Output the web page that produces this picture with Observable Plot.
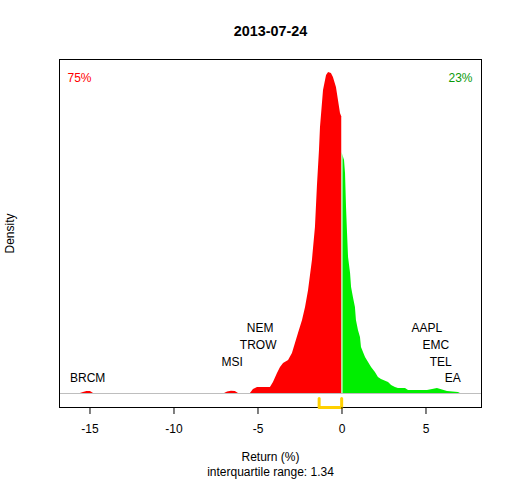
<!DOCTYPE html>
<html>
<head>
<meta charset="utf-8">
<script src="https://cdn.jsdelivr.net/npm/d3@7"></script>
<script src="https://cdn.jsdelivr.net/npm/@observablehq/plot@0.6"></script>
<style>
  html, body { margin: 0; padding: 0; background: white; }
</style>
</head>
<body>
<div id="chart"></div>
<script>
// Density of negative returns (red)
const negReturn = [-15.57, -15.39, -15.18, -14.97, -14.79, -6.99, -6.81, -6.58, -6.35, -6.16,
  -5.45, -5.27, -5.03, -4.85, -4.55, -4.26, -4.08, -3.84, -3.66, -3.48, -3.18, -2.95, -2.77,
  -2.59, -2.35, -2.17, -1.99, -1.76, -1.58, -1.46, -1.34, -1.28, -1.10, -0.92, -0.80, -0.63,
  -0.51, -0.33, -0.21, -0.09, 0];
const negDensity = [0, 0.0012, 0.0024, 0.0024, 0, 0, 0.0018, 0.0027, 0.0024, 0,
  0, 0.0047, 0.0071, 0.0071, 0.0071, 0.0071, 0.0129, 0.0235, 0.0306, 0.0353, 0.0388, 0.0471, 0.0588,
  0.0706, 0.0859, 0.1012, 0.1212, 0.1565, 0.1953, 0.2447, 0.2859, 0.3129, 0.3565, 0.3741, 0.3776, 0.3765,
  0.3718, 0.3600, 0.3447, 0.3294, 0.3247];
// Density of positive returns (green)
const posReturn = [0, 0.15, 0.21, 0.27, 0.33, 0.39, 0.51, 0.57, 0.68, 0.80, 0.86, 0.98, 1.10, 1.16,
  1.40, 1.58, 1.76, 1.99, 2.17, 2.35, 2.77, 2.95, 3.18, 3.36, 3.78, 3.96, 4.55, 5.09, 5.39, 5.68,
  6.28, 6.93, 7.05];
const posDensity = [0.2835, 0.2741, 0.2588, 0.2188, 0.1882, 0.1600, 0.1412, 0.1247, 0.1129, 0.1012,
  0.0859, 0.0741, 0.0659, 0.0541, 0.0424, 0.0365, 0.0306, 0.0247, 0.0188, 0.0165, 0.0129, 0.0094,
  0.0071, 0.0059, 0.0059, 0.0035, 0.0035, 0.0035, 0.0047, 0.0059, 0.0024, 0.0012, 0];

// Labelled extreme stocks
const tickers = ["BRCM", "MSI", "TROW", "NEM", "AAPL", "EMC", "TEL", "EA"];
const tickerReturn = [-15.14, -6.53, -4.99, -4.87, 5.05, 5.58, 5.88, 6.59];
const tickerRow = [1, 2, 3, 4, 4, 3, 2, 1];

const quartiles = [-1.36, -0.02];
const xTicks = [-15, -10, -5, 0, 5];
const title = "2013-07-24";
const fracNeg = "75%";
const fracPos = "23%";
const xLabel = "Return (%)";
const iqrLabel = "interquartile range: 1.34";
const yLabel = "Density";

const neg = negReturn.map((x, i) => ({x, y: negDensity[i]}));
const pos = posReturn.map((x, i) => ({x, y: posDensity[i]}));
const labels = tickers.map((t, i) => ({t, x: tickerReturn[i], y: 0.0176 + (tickerRow[i] - 1) * 0.0196}));

const yMin = -0.01647, yMax = 0.39294;
const bracket = [
  {x: quartiles[0], y: -0.0059},
  {x: quartiles[0], y: yMin},
  {x: quartiles[1], y: yMin},
  {x: quartiles[1], y: -0.0059}
];

const font = "'Liberation Sans', Arial, sans-serif";
const mid = {lineAnchor: "middle", fill: "black", fontSize: 12};

const chart = Plot.plot({
  width: 512,
  height: 480,
  marginLeft: 59,
  marginRight: 31,
  marginTop: 59,
  marginBottom: 73,
  style: {fontFamily: font, fontSize: "12px", background: "white", color: "black", overflow: "visible"},
  x: {domain: [-16.815, 8.304]},
  y: {domain: [yMin, yMax], axis: null},
  marks: [
    Plot.areaY(neg, {x: "x", y: "y", fill: "#FF0000"}),
    Plot.areaY(pos, {x: "x", y: "y", fill: "#00EE00"}),
    Plot.ruleX([0], {y1: 0, y2: negDensity[negDensity.length - 1], stroke: "white", strokeWidth: 1}),
    Plot.ruleY([0], {stroke: "#BEBEBE", strokeWidth: 1}),
    Plot.text(labels, {x: "x", y: "y", text: "t", fill: "black", fontSize: 12}),
    Plot.frame({stroke: "black", strokeWidth: 1}),
    Plot.line(bracket, {x: "x", y: "y", stroke: "#FFD000", strokeWidth: 3}),
    Plot.axisX({ticks: xTicks, tickSize: 7, tickPadding: 10, tickFormat: d => String(d), label: null, fontSize: 12}),
    Plot.text([title], {...mid, frameAnchor: "top", textAnchor: "middle", dy: -28, fontWeight: "bold", fontSize: 14.4}),
    Plot.text([fracNeg], {...mid, frameAnchor: "top-left", dx: 8, dy: 18.7, textAnchor: "start", fill: "#FF0000"}),
    Plot.text([fracPos], {...mid, frameAnchor: "top-right", dx: -9, dy: 18.7, textAnchor: "end", fill: "#0A9A0A"}),
    Plot.text([xLabel], {...mid, frameAnchor: "bottom", textAnchor: "middle", dy: 50}),
    Plot.text([iqrLabel], {...mid, frameAnchor: "bottom", textAnchor: "middle", dy: 64.5}),
    Plot.text([yLabel], {...mid, frameAnchor: "left", textAnchor: "middle", dx: -49, dy: 0, rotate: -90})
  ]
});
document.getElementById("chart").appendChild(chart);
</script>
</body>
</html>
